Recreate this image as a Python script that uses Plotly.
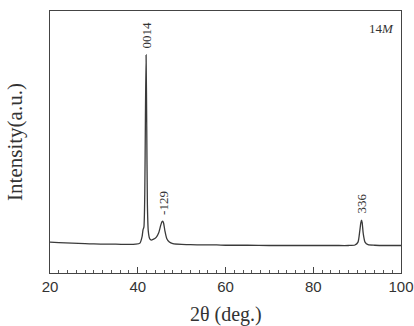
import plotly.graph_objects as go

# 2theta (deg.) and intensity (a.u.)
two_theta = [20, 22, 25, 28, 30, 33, 35, 38, 39.5, 40.5, 41.0, 41.2, 41.4, 41.6, 41.75,
             41.9, 42.05, 42.2, 42.4, 42.7, 43.0, 43.5, 44.2, 44.8, 45.2, 45.5, 45.7,
             45.9, 46.2, 46.6, 47.2, 48, 50, 52, 55, 58, 60, 65, 70, 75, 80, 85, 88,
             89.5, 90.2, 90.6, 90.85, 91.0, 91.15, 91.4, 91.8, 92.5, 94, 97, 100]
intensity = [118, 116, 114, 112, 111, 110, 110, 109, 110, 114, 140, 165, 175, 300, 600,
             832, 560, 260, 160, 132, 126, 128, 136, 155, 180, 195, 198,
             190, 160, 132, 118, 112, 109, 108, 107, 107, 106, 106, 105, 105, 105, 105, 105,
             107, 118, 160, 192, 202, 192, 150, 118, 108, 106, 105, 105]

peak_x = [41.9, 45.7, 91.0]
peak_y = [832, 198, 202]
peak_labels = ["0014", "-129", "336"]

fig = go.Figure()
fig.add_trace(go.Scatter(x=two_theta, y=intensity, mode="lines",
                         line=dict(color="#3a3a3a", width=1.3, shape="spline", smoothing=0.6),
                         showlegend=False, hoverinfo="skip"))

for px, py, lab in zip(peak_x, peak_y, peak_labels):
    fig.add_annotation(x=px, y=py, text=lab, textangle=-90, showarrow=False,
                       xanchor="center", yanchor="bottom", yshift=4,
                       font=dict(family="Liberation Serif", size=13, color="#333"))

fig.add_annotation(x=0.985, y=0.935, xref="paper", yref="paper", text="14<i>M</i>",
                   showarrow=False, xanchor="right", yanchor="middle",
                   font=dict(family="Liberation Serif", size=13, color="#333"))

# x-axis title placed as a paper annotation, just inside the bottom edge
fig.add_annotation(x=0.5, y=-0.158, xref="paper", yref="paper", text="2θ (deg.)",
                   showarrow=False, xanchor="center", yanchor="middle",
                   font=dict(family="Liberation Serif", size=20, color="#333"))

fig.update_layout(
    width=414, height=326,
    margin=dict(l=50, r=13, t=11, b=53),
    paper_bgcolor="white", plot_bgcolor="white",
    xaxis=dict(range=[20, 100.001], dtick=20, tick0=20, showline=True, mirror=True,
               linecolor="#444", linewidth=1.3, ticks="inside", ticklen=6,
               tickcolor="#444", showgrid=False, zeroline=False, automargin=False,
               ticklabeloverflow="allow",
               minor=dict(dtick=2, ticks="inside", ticklen=3, tickcolor="#555"),
               tickfont=dict(family="Liberation Sans", size=15, color="#333")),
    yaxis=dict(range=[0, 1000], showline=True, mirror=True, linecolor="#444",
               linewidth=1.3, showticklabels=False, ticks="", showgrid=False,
               zeroline=False, automargin=False,
               title=dict(text="Intensity(a.u.)", standoff=20,
                          font=dict(family="Liberation Serif", size=21, color="#333"))),
)

fig.write_html("out.html")
